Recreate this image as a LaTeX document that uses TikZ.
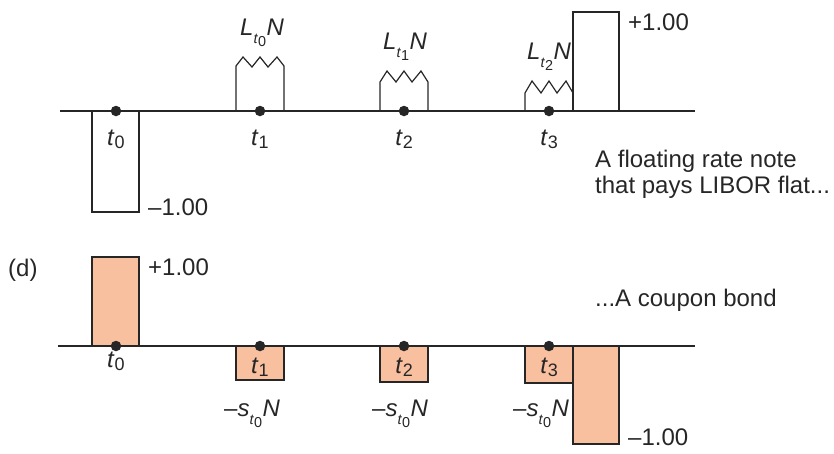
\documentclass[tikz,border=0pt]{standalone}
\usepackage{fontspec}
\setmainfont{Liberation Sans}
\newcommand{\tv}[1]{\textit{t}\raisebox{-3pt}{\scalebox{0.75}{#1}}}
\newcommand{\lsub}[1]{\raisebox{-8pt}{\scalebox{0.6}{\textit{t}\raisebox{-6.5pt}{#1}}}}
\newcommand{\Lv}[1]{\textit{L}\lsub{#1}\kern0.5pt\textit{N}}
\newcommand{\sv}{–\textit{s}\lsub{0}\kern0.5pt\textit{N}}
\definecolor{peach}{RGB}{249,192,160}
\tikzset{
  axisline/.style={line width=1.4pt, draw=black!85},
  boxline/.style={draw=black!85, line width=1.2pt, line join=miter},
  cash/.style={boxline, fill=peach},
  dot/.style={circle, fill=black!85, inner sep=0pt, minimum size=10.5pt},
  lbl/.style={inner sep=0pt, anchor=base, font=\fontsize{24}{26}\selectfont, text=black!85},
  txt/.style={inner sep=0pt, anchor=base west, font=\fontsize{24}{26}\selectfont, text=black!85},
}
\begin{document}
\begin{tikzpicture}[x=1pt,y=-1pt]
\useasboundingbox (0,0) rectangle (834,453);
% ---------- top: floating rate note ----------
\draw[boxline] (92,111) rectangle (139,212);
\draw[boxline] (236,111) -- (236,66) -- (243,57) -- (252,67) -- (260,57) -- (268,67) -- (277,57) -- (284,66) -- (284,111);
\draw[boxline] (380,111) -- (380,82) -- (387,71) -- (396,82) -- (404,71) -- (412,82) -- (421,71) -- (428,82) -- (428,111);
\draw[boxline] (525,111) -- (525,93) -- (532,81) -- (541,93) -- (549,81) -- (557,93) -- (566,81) -- (573,93);
\draw[boxline] (573,111) rectangle (619,12);
\coordinate (ta) at (60,111);
\coordinate (tb) at (695,111);
\draw[axisline] (ta) -- (tb);
\node[dot] (u0) at (116,111) {};
\node[dot] (u1) at (260,111) {};
\node[dot] (u2) at (404,111) {};
\node[dot] (u3) at (549,111) {};
\node[lbl] (ut0) at (116,145) {\tv{0}};
\node[lbl] (ut1) at (260,145) {\tv{1}};
\node[lbl] (ut2) at (404,145) {\tv{2}};
\node[lbl] (ut3) at (549,145) {\tv{3}};
\node[lbl] (l0) at (262,35) {\Lv{0}};
\node[lbl] (l1) at (405,49) {\Lv{1}};
\node[lbl] (l2) at (549,59) {\Lv{2}};
\node[txt] (um) at (148,215) {–1.00};
\node[txt] (up) at (628,30) {+1.00};
\node[txt] (frn1) at (595,167) {A floating rate note};
\node[txt] (frn2) at (595,193) {that pays LIBOR flat...};
% ---------- bottom: coupon bond ----------
\node[txt] (dl) at (8,276) {(d)};
\draw[cash] (92,346) rectangle (139,257);
\draw[cash] (236,346) rectangle (284,380);
\draw[cash] (380,346) rectangle (428,382);
\draw[cash] (525,346) rectangle (573,383);
\draw[cash] (573,346) rectangle (619,444);
\coordinate (ba) at (58,346);
\coordinate (bb) at (695,346);
\draw[axisline] (ba) -- (bb);
\node[dot] (v0) at (116,346) {};
\node[dot] (v1) at (260,346) {};
\node[dot] (v2) at (404,346) {};
\node[dot] (v3) at (549,346) {};
\node[lbl] (vt0) at (116,367) {\tv{0}};
\node[lbl] (vt1) at (260,373) {\tv{1}};
\node[lbl] (vt2) at (404,373) {\tv{2}};
\node[lbl] (vt3) at (549,373) {\tv{3}};
\node[lbl] (s1) at (252,416) {\sv};
\node[lbl] (s2) at (400,416) {\sv};
\node[lbl] (s3) at (541,416) {\sv};
\node[txt] (bp) at (148,275) {+1.00};
\node[txt] (bm) at (628,445) {–1.00};
\node[txt] (cb) at (595,306) {...A coupon bond};
\end{tikzpicture}
\end{document}
